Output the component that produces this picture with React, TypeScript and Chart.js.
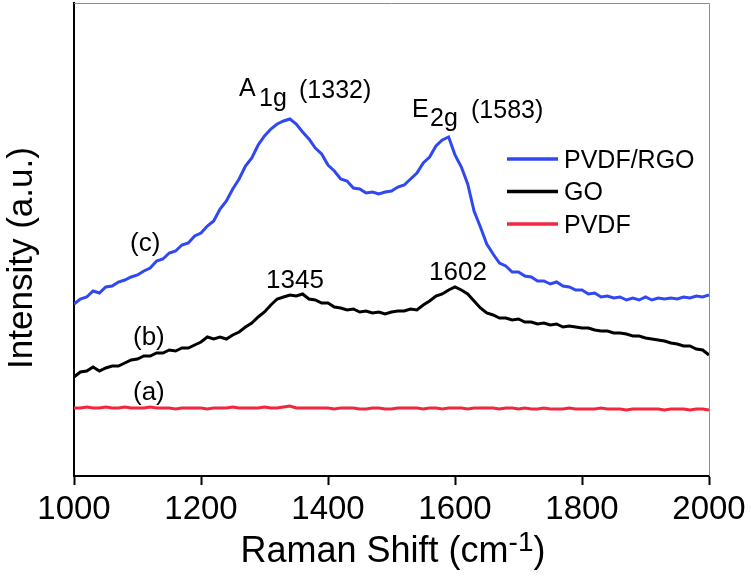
import React, { useEffect, useRef } from "react";
import { Chart, registerables } from "chart.js";

Chart.register(...registerables);

const ramanShift = [
  1000, 1010, 1020, 1030, 1040, 1050, 1060, 1070, 1080, 1090,
  1100, 1110, 1120, 1130, 1140, 1150, 1160, 1170, 1180, 1190,
  1200, 1210, 1220, 1230, 1240, 1250, 1260, 1270, 1280, 1290,
  1300, 1310, 1320, 1330, 1340, 1350, 1360, 1370, 1380, 1390,
  1400, 1410, 1420, 1430, 1440, 1450, 1460, 1470, 1480, 1490,
  1500, 1510, 1520, 1530, 1540, 1550, 1560, 1570, 1580, 1590,
  1600, 1610, 1620, 1630, 1640, 1650, 1660, 1670, 1680, 1690,
  1700, 1710, 1720, 1730, 1740, 1750, 1760, 1770, 1780, 1790,
  1800, 1810, 1820, 1830, 1840, 1850, 1860, 1870, 1880, 1890,
  1900, 1910, 1920, 1930, 1940, 1950, 1960, 1970, 1980, 1990,
  2000,
];

const pvdfRgo = [
  172, 177, 179, 185, 183, 189, 190, 194, 196, 199,
  201, 205, 208, 215, 217, 223, 225, 231, 233, 240,
  243, 250, 255, 267, 275, 287, 297, 310, 318, 331,
  340, 347, 352, 355, 357, 352, 344, 337, 328, 322,
  311, 305, 297, 295, 288, 287, 283, 284, 282, 284,
  285, 289, 291, 297, 303, 313, 319, 330, 336, 339,
  321, 309, 292, 265, 249, 232, 222, 213, 210, 204,
  204, 200, 199, 195, 195, 192, 194, 190, 189, 186,
  186, 182, 183, 179, 180, 178, 179, 176, 178, 176,
  179, 176, 178, 177, 178, 177, 179, 178, 180, 179,
  181,
];

const go = [
  99, 104, 105, 109, 105, 108, 110, 110, 113, 116,
  117, 120, 120, 123, 123, 126, 125, 128, 128, 131,
  134, 139, 137, 139, 137, 141, 144, 149, 153, 159,
  164, 171, 177, 179, 181, 180, 182, 177, 176, 173,
  173, 169, 168, 166, 167, 164, 165, 163, 164, 162,
  164, 165, 165, 167, 166, 171, 175, 180, 182, 186,
  189, 186, 182, 175, 168, 163, 161, 158, 158, 156,
  157, 154, 154, 152, 153, 151, 152, 149, 150, 149,
  148, 148, 146, 145, 145, 143, 143, 142, 140, 140,
  138, 137, 136, 135, 133, 132, 130, 130, 127, 126,
  121,
];

const pvdf = [
  68, 68, 69, 68, 68, 69, 68, 68, 69, 68,
  68, 68, 69, 68, 68, 68, 67, 68, 68, 68,
  68, 67, 68, 68, 68, 69, 68, 68, 68, 68,
  69, 68, 68, 69, 70, 68, 68, 68, 68, 68,
  68, 67, 68, 68, 68, 67, 67, 68, 68, 67,
  67, 68, 68, 68, 68, 67, 68, 68, 67, 68,
  68, 68, 67, 68, 68, 68, 68, 67, 68, 68,
  67, 68, 67, 67, 68, 67, 67, 67, 68, 67,
  67, 67, 67, 68, 67, 67, 67, 66, 67, 67,
  67, 67, 67, 66, 67, 67, 67, 66, 67, 67,
  66,
];

const xTicks = [1000, 1200, 1400, 1600, 1800, 2000];
const seriesNames = ["PVDF/RGO", "GO", "PVDF"];
const seriesColors = ["#2f48f2", "#000000", "#f2263f"];

const FONT = "'Liberation Sans', Arial, Helvetica, sans-serif";

const toPoints = (ys: number[]) => ys.map((y, i) => ({ x: ramanShift[i], y }));

const decorPlugin = {
  id: "decor",
  afterDraw(chart: any) {
    const ctx = chart.ctx as CanvasRenderingContext2D;
    const { left, right, top, bottom } = chart.chartArea;
    ctx.save();
    // thin frame top/right
    ctx.strokeStyle = "#8c8c8c";
    ctx.lineWidth = 1;
    ctx.beginPath();
    ctx.moveTo(left, top + 0.5);
    ctx.lineTo(right + 0.5, top + 0.5);
    ctx.lineTo(right + 0.5, bottom);
    ctx.stroke();

    ctx.fillStyle = "#000";
    ctx.textBaseline = "alphabetic";
    ctx.textAlign = "left";
    const f = (s: number) => `${s}px ${FONT}`;

    // A1g (1332)
    ctx.font = f(25);
    ctx.fillText("A", 239, 96);
    ctx.fillText("1g", 259, 106);
    ctx.fillText("(1332)", 299, 98);
    // E2g (1583)
    ctx.fillText("E", 412, 117);
    ctx.fillText("2g", 430, 126);
    ctx.fillText("(1583)", 471, 118);

    // curve labels
    ctx.font = f(26);
    ctx.fillText("(c)", 130, 251);
    ctx.fillText("(b)", 133, 345);
    ctx.fillText("(a)", 133, 400);
    ctx.textAlign = "center";
    ctx.fillText("1345", 295, 288);
    ctx.fillText("1602", 458, 280);

    // legend
    const lineYs = [159, 191.5, 224];
    ctx.textAlign = "left";
    ctx.font = f(25);
    seriesNames.forEach((name, i) => {
      ctx.strokeStyle = seriesColors[i];
      ctx.lineWidth = 3.5;
      ctx.beginPath();
      ctx.moveTo(507, lineYs[i]);
      ctx.lineTo(558, lineYs[i]);
      ctx.stroke();
      ctx.fillStyle = "#000";
      ctx.fillText(name, 564, lineYs[i] + 8.5);
    });

    // x title with superscript
    const main1 = "Raman Shift (cm";
    const sup = "-1";
    const main2 = ")";
    ctx.font = f(36);
    const w1 = ctx.measureText(main1).width;
    const w3 = ctx.measureText(main2).width;
    ctx.font = f(28);
    const w2 = ctx.measureText(sup).width;
    const total = w1 + w2 + w3;
    const x0 = 393 - total / 2;
    ctx.font = f(36);
    ctx.fillText(main1, x0, 562);
    ctx.font = f(28);
    ctx.fillText(sup, x0 + w1, 551);
    ctx.font = f(36);
    ctx.fillText(main2, x0 + w1 + w2, 562);

    // y title
    ctx.translate(32, 258);
    ctx.rotate(-Math.PI / 2);
    ctx.textAlign = "center";
    ctx.font = f(35);
    ctx.fillText("Intensity (a.u.)", 0, 0);
    ctx.restore();
  },
};

export default function App() {
  const canvasRef = useRef<HTMLCanvasElement | null>(null);

  useEffect(() => {
    const canvas = canvasRef.current;
    if (!canvas) return;
    const chart = new Chart(canvas, {
      type: "line",
      data: {
        datasets: [
          { label: seriesNames[2], data: toPoints(pvdf), borderColor: seriesColors[2], borderWidth: 3, pointRadius: 0, tension: 0 },
          { label: seriesNames[1], data: toPoints(go), borderColor: seriesColors[1], borderWidth: 3, pointRadius: 0, tension: 0 },
          { label: seriesNames[0], data: toPoints(pvdfRgo), borderColor: seriesColors[0], borderWidth: 3, pointRadius: 0, tension: 0 },
        ],
      },
      options: {
        animation: false,
        responsive: false,
        devicePixelRatio: 1,
        layout: { padding: { left: 0, right: 42, top: 3, bottom: 0 } },
        plugins: { legend: { display: false }, tooltip: { enabled: false } },
        scales: {
          x: {
            type: "linear",
            min: 1000,
            max: 2000,
            afterBuildTicks: (scale: any) => {
              scale.ticks = xTicks.map((v) => ({ value: v }));
            },
            afterFit: (scale: any) => {
              scale.height = 102;
            },
            ticks: {
              color: "#000",
              font: { family: FONT, size: 33 },
              padding: 5,
              maxRotation: 0,
              autoSkip: false,
              callback: (v: any) => String(v),
            },
            grid: {
              display: true,
              drawOnChartArea: false,
              drawTicks: true,
              tickLength: 9,
              tickWidth: 2,
              tickColor: "#000",
              color: "#000",
            },
            border: { display: true, color: "#000", width: 2 },
          },
          y: {
            min: 0,
            max: 473,
            afterFit: (scale: any) => {
              scale.width = 74;
            },
            ticks: { display: false },
            grid: { display: false, drawTicks: false },
            border: { display: true, color: "#000", width: 2 },
          },
        },
      },
      plugins: [decorPlugin],
    });
    return () => chart.destroy();
  }, []);

  return (
    <div style={{ position: "absolute", left: 0, top: 0, width: 751, height: 578, background: "#fff" }}>
      <canvas ref={canvasRef} width={751} height={578} style={{ width: 751, height: 578 }} />
    </div>
  );
}
